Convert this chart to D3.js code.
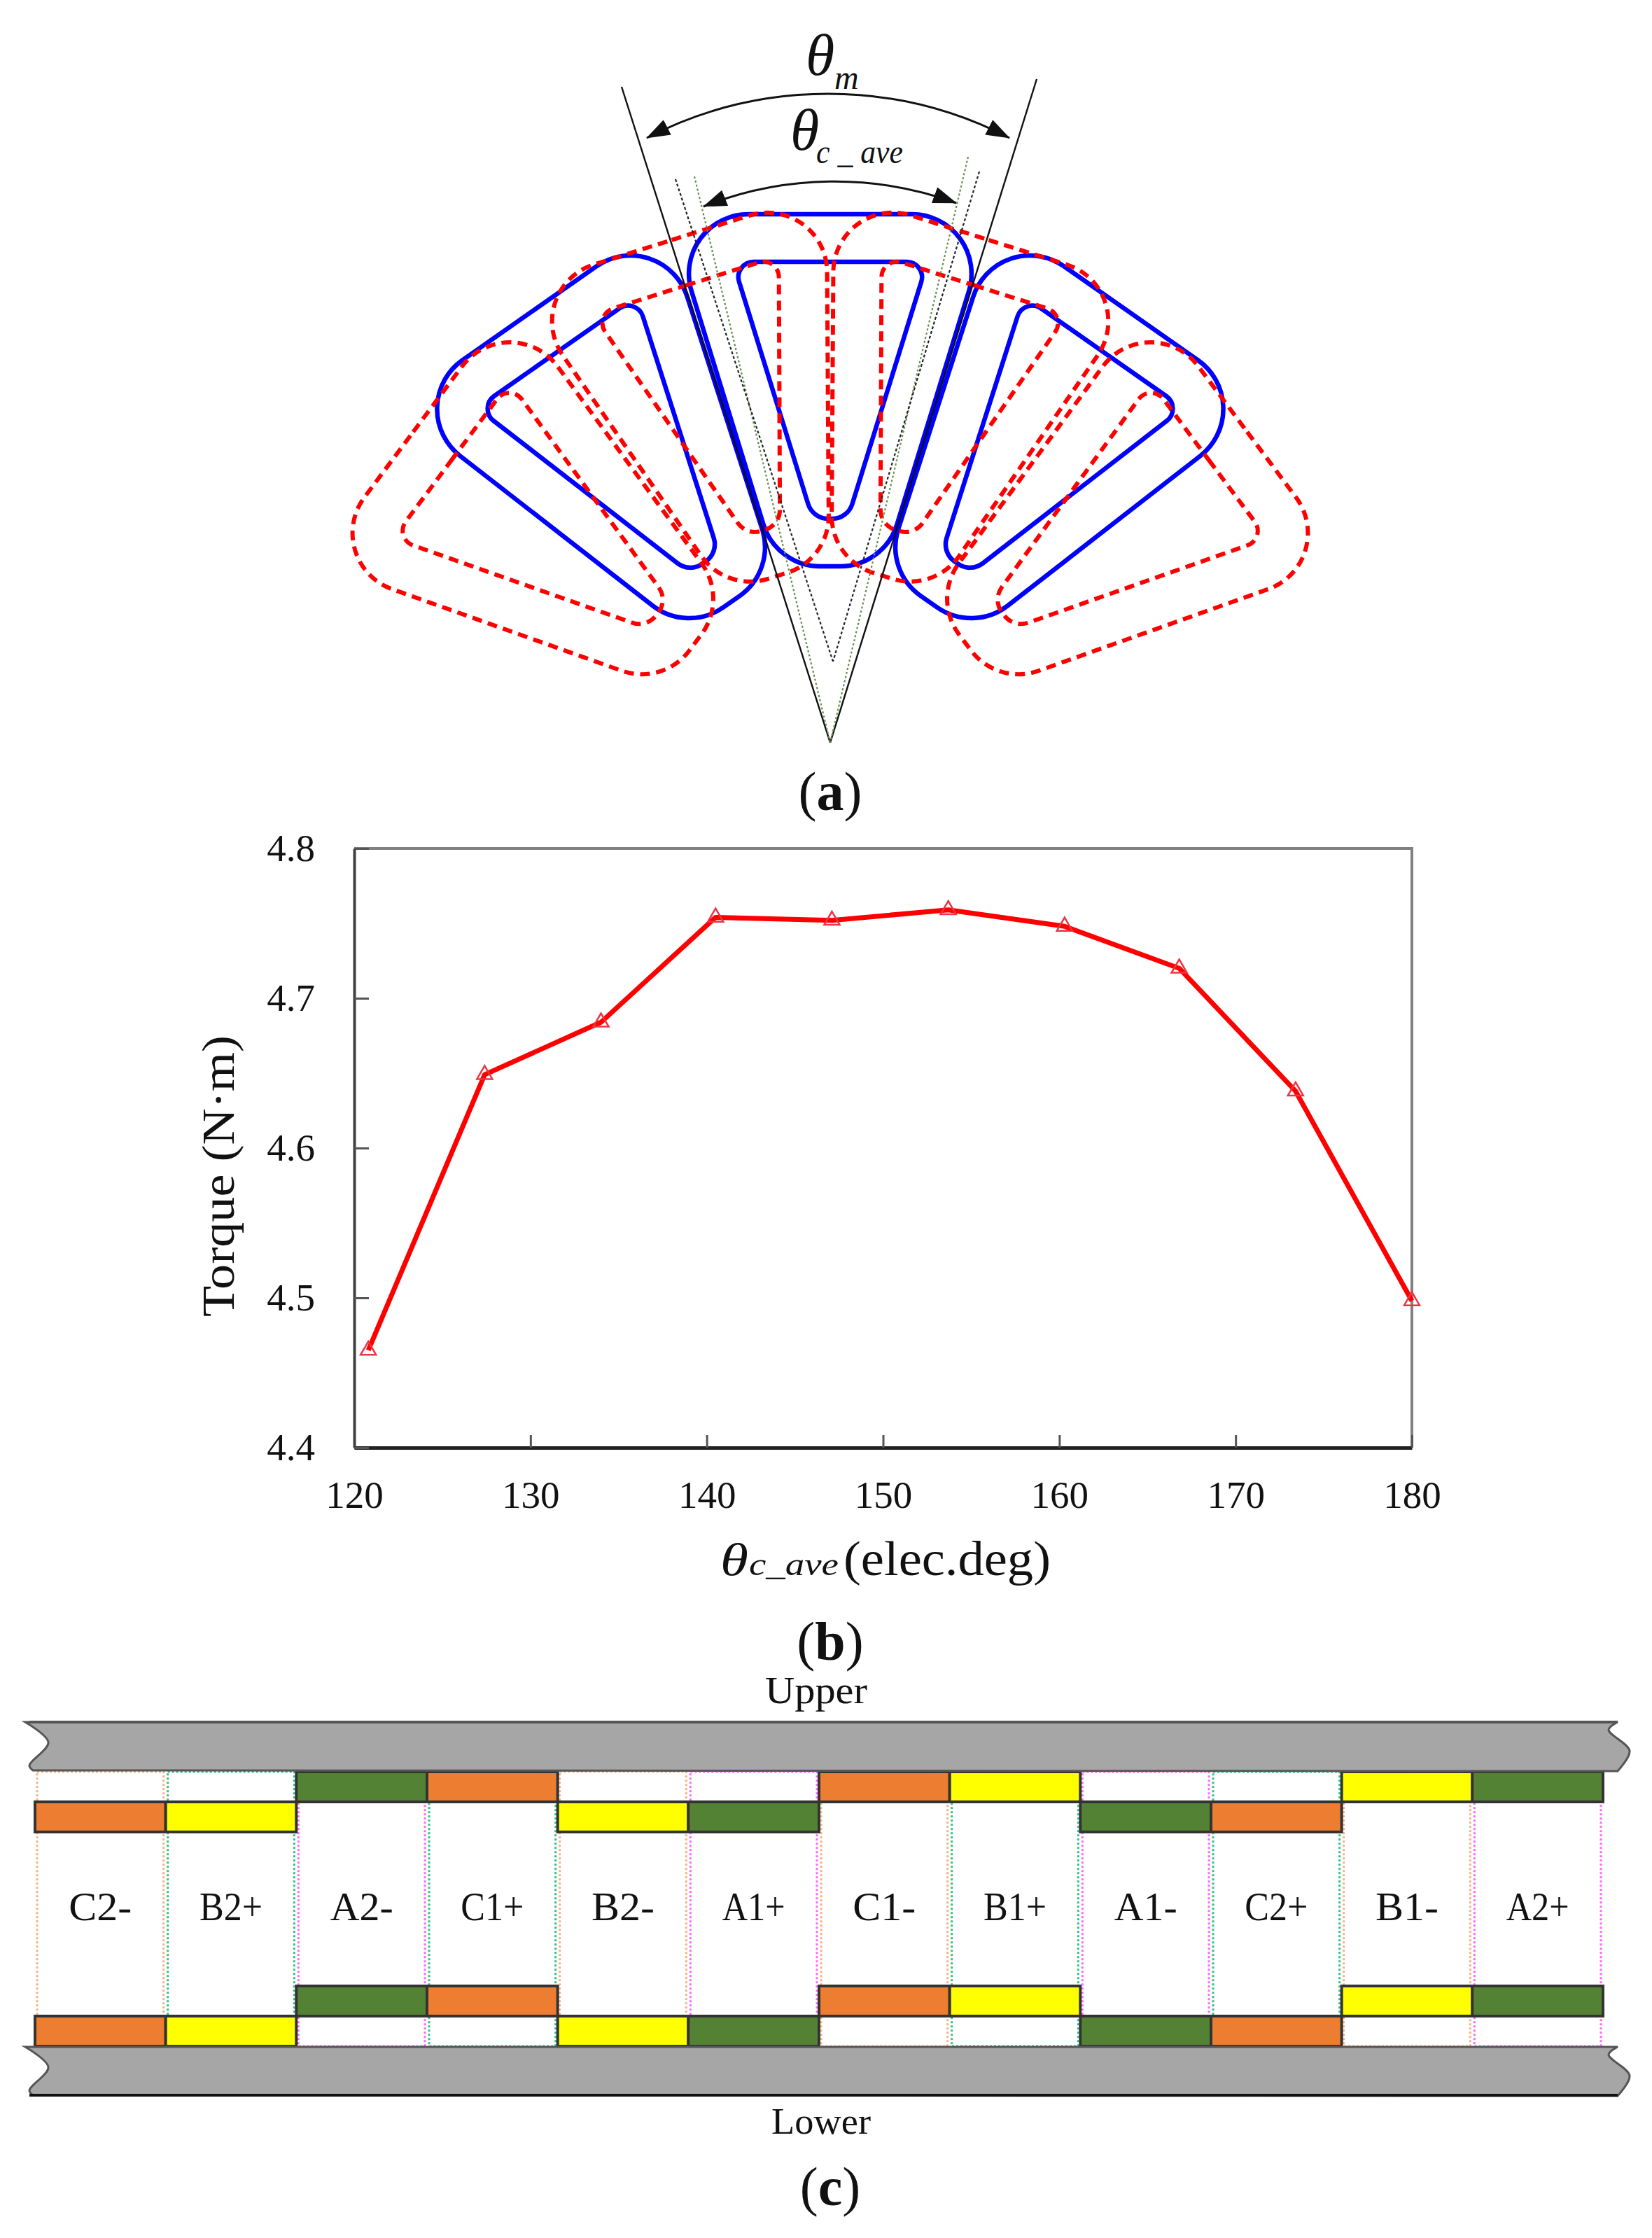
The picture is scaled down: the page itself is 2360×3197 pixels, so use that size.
<!DOCTYPE html>
<html>
<head>
<meta charset="utf-8">
<title>Coil pitch and torque</title>
<script src="https://cdn.jsdelivr.net/npm/d3@7.9.0/dist/d3.min.js"></script>
<style>
  html, body { margin: 0; padding: 0; background: #fff; }
  svg { display: block; }
  text { font-family: "Liberation Serif", serif; fill: #111; }
</style>
</head>
<body>
<svg id="fig" width="2360" height="3197" viewBox="0 0 2360 3197"></svg>
<script>
// (b) torque curve
const coilPitch = [120.8, 127.4, 134, 140.5, 147.1, 153.7, 160.3, 166.8, 173.4, 180];
const torque = [4.465, 4.649, 4.684, 4.754, 4.752, 4.759, 4.748, 4.72, 4.638, 4.498];
const xTicks = [120, 130, 140, 150, 160, 170, 180];
const yTicks = [4.4, 4.5, 4.6, 4.7, 4.8];

// (a) coil rotations about the apex, degrees, and how far each sits in from its nominal radius
const blueCoilAngles = [-35, 0, 35];
const blueCoilInset = [6, 0, 6];
const redCoilAngles = [-53.3, -17.5, 17.5, 53.3];
const redCoilInset = [12, 2, 2, 12];

// (c) winding layout
const slotLabels = ["C2-", "B2+", "A2-", "C1+", "B2-", "A1+", "C1-", "B1+", "A1-", "C2+", "B1-", "A2+"];
const slotRows = [1, 1, 0, 0, 1, 1, 0, 0, 1, 1, 0, 0];
const slotLines = ["C", "B", "A", "B", "C", "A", "C", "B", "A", "B", "C", "A"];

const svg = d3.select("#fig");

// --- Panel a ---
const apex = [1186, 1061];
const outerCoil = { top: -755, bottom: -252, topHalf: 232, bottomHalf: 77, rTop: 85, rBottom: 85 };
const innerCoil = { top: -687, bottom: -320, topHalf: 139, bottomHalf: 25, rTop: 22, rBottom: 30 };

function coilPath(c) {
  const p = d3.path();
  p.moveTo(0, c.top);
  p.arcTo(c.topHalf, c.top, c.bottomHalf, c.bottom, c.rTop);
  p.arcTo(c.bottomHalf, c.bottom, -c.bottomHalf, c.bottom, c.rBottom);
  p.arcTo(-c.bottomHalf, c.bottom, -c.topHalf, c.top, c.rBottom);
  p.arcTo(-c.topHalf, c.top, 0, c.top, c.rTop);
  p.closePath();
  return p.toString();
}

const coils = svg.append("g").attr("fill", "none");

function drawCoils(angles, inset, color, width, dash) {
  const g = coils.selectAll(null)
    .data(angles)
    .join("g")
    .attr("transform", (d, i) => `translate(${apex[0]},${apex[1]}) rotate(${d}) translate(0,${inset[i]})`);
  g.selectAll("path")
    .data([outerCoil, innerCoil])
    .join("path")
    .attr("d", coilPath)
    .attr("stroke", color)
    .attr("stroke-width", width)
    .attr("stroke-dasharray", dash);
}
drawCoils(blueCoilAngles, blueCoilInset, "#0000ff", 6.5, null);
drawCoils(redCoilAngles, redCoilInset, "#ff0000", 6, "14 9");

// guide lines
const guides = [
  { from: [888, 124], to: apex, color: "#111", width: 2.4, dash: null },
  { from: [1481, 113], to: apex, color: "#111", width: 2.4, dash: null },
  { from: [992, 252], to: apex, color: "#6b8e4e", width: 2.2, dash: "3 3" },
  { from: [1383, 224], to: apex, color: "#6b8e4e", width: 2.2, dash: "3 3" },
  { from: [965, 256], to: [1190, 945], color: "#222", width: 2.2, dash: "4 3" },
  { from: [1399, 245], to: [1190, 945], color: "#222", width: 2.2, dash: "4 3" },
];
svg.append("g").selectAll("line")
  .data(guides)
  .join("line")
  .attr("x1", (d) => d.from[0]).attr("y1", (d) => d.from[1])
  .attr("x2", (d) => d.to[0]).attr("y2", (d) => d.to[1])
  .attr("stroke", (d) => d.color)
  .attr("stroke-width", (d) => d.width)
  .attr("stroke-dasharray", (d) => d.dash);

// arrow arcs
const defs = svg.append("defs");
defs.append("marker")
  .attr("id", "head")
  .attr("markerUnits", "userSpaceOnUse")
  .attr("markerWidth", 36).attr("markerHeight", 24)
  .attr("refX", 33).attr("refY", 12)
  .attr("orient", "auto-start-reverse")
  .append("path")
  .attr("d", "M0,0L34,12L0,24Z")
  .attr("fill", "#111");

const arcs = [
  { a: [924, 197], b: [1442, 197], r: 564 },
  { a: [1005, 295], b: [1366, 290], r: 507 },
];
svg.append("g").selectAll("path")
  .data(arcs)
  .join("path")
  .attr("d", (d) => `M${d.a}A${d.r},${d.r} 0 0 1 ${d.b}`)
  .attr("fill", "none")
  .attr("stroke", "#111")
  .attr("stroke-width", 3)
  .attr("marker-start", "url(#head)")
  .attr("marker-end", "url(#head)");

function label(x, y, str, size, opts = {}) {
  const t = svg.append("text")
    .attr("x", x).attr("y", y)
    .attr("font-size", size)
    .attr("text-anchor", opts.anchor || "start")
    .attr("font-style", opts.italic ? "italic" : null)
    .text(str);
  if (opts.length) t.attr("textLength", opts.length).attr("lengthAdjust", "spacingAndGlyphs");
  return t;
}

label(1151, 107, "θ", 84, { italic: true });
label(1192, 127, "m", 48, { italic: true });
label(1129, 214, "θ", 84, { italic: true });
label(1166, 233, "c _ ave", 48, { italic: true, length: 124 });

function panelTag(y, letter) {
  const t = svg.append("text")
    .attr("x", 1186).attr("y", y)
    .attr("font-size", 78)
    .attr("text-anchor", "middle");
  t.append("tspan").text("(");
  t.append("tspan").attr("font-weight", "bold").text(letter);
  t.append("tspan").text(")");
}
panelTag(1157, "a");
panelTag(2371, "b");
panelTag(3150, "c");

// --- Panel b ---
const x = d3.scaleLinear().domain([120, 180]).range([506, 2017]);
const y = d3.scaleLinear().domain([4.4, 4.8]).range([2068, 1212]);

const plot = svg.append("g");

plot.append("path")
  .attr("d", `M${x(120)},${y(4.8)}H${x(180)}V${y(4.4)}`)
  .attr("fill", "none")
  .attr("stroke", "#808080")
  .attr("stroke-width", 4);

const axisX = plot.append("g")
  .attr("transform", `translate(0,${y(4.4)})`)
  .call(d3.axisBottom(x).tickValues(xTicks).tickFormat(d3.format("d")).tickSizeInner(-18).tickSizeOuter(0).tickPadding(47));
const axisY = plot.append("g")
  .attr("transform", `translate(${x(120)},0)`)
  .call(d3.axisLeft(y).tickValues(yTicks).tickFormat(d3.format(".1f")).tickSizeInner(-21).tickSizeOuter(0).tickPadding(56));

[axisX, axisY].forEach((a) => {
  a.selectAll("text").attr("font-family", "Liberation Serif").attr("font-size", 55).attr("fill", "#111");
  a.selectAll("line").attr("stroke", "#555").attr("stroke-width", 3);
});
axisX.select(".domain").attr("stroke", "#222").attr("stroke-width", 5);
axisY.select(".domain").attr("stroke", "#404040").attr("stroke-width", 4);

const points = coilPitch.map((d, i) => [d, torque[i]]);
const lineGen = d3.line().x((d) => x(d[0])).y((d) => y(d[1]));

plot.append("path")
  .attr("d", lineGen(points))
  .attr("fill", "none")
  .attr("stroke", "#ff0000")
  .attr("stroke-width", 7)
  .attr("stroke-linejoin", "round");

plot.append("g").selectAll("path")
  .data(points)
  .join("path")
  .attr("d", d3.symbol(d3.symbolTriangle, 210))
  .attr("transform", (d) => `translate(${x(d[0])},${y(d[1])})`)
  .attr("fill", "none")
  .attr("stroke", "#ee3344")
  .attr("stroke-width", 2.5);

const yTitleX = 334;
const yTitleY = 1680;
svg.append("text")
  .attr("transform", `translate(${yTitleX},${yTitleY}) rotate(-90)`)
  .attr("text-anchor", "middle")
  .attr("font-size", 66)
  .attr("textLength", 402)
  .attr("lengthAdjust", "spacingAndGlyphs")
  .text("Torque (N·m)");

label(1029, 2250, "θ", 66, { italic: true, length: 40 });
label(1070, 2250, "c_ave", 46, { italic: true, length: 128 });
label(1205, 2250, "(elec.deg)", 70, { length: 296 });

// --- Panel c ---
const slotX = d3.scaleLinear().domain([0, 12]).range([50, 2290]);
const upperRowY = d3.scaleLinear().domain([0, 2]).range([2531, 2617]);
const lowerRowY = d3.scaleLinear().domain([0, 2]).range([2837, 2923]);
const phaseFill = { A: "#548235", B: "#ffff00", C: "#ed7d31" };
const lineColor = { A: "#ff66ff", B: "#2fc08a", C: "#f4b183" };

const slots = slotLabels.map((d, i) => ({ i, label: d, row: slotRows[i], phase: d[0], line: slotLines[i] }));
const slotW = slotX(1) - slotX(0);

const slotG = svg.append("g");

// dotted slot boundaries, top and bottom of each slot
slotG.selectAll("path.bound")
  .data(slots)
  .join("path")
  .attr("class", "bound")
  .attr("d", (d) => `M${slotX(d.i) + 3},${upperRowY(0)}H${slotX(d.i + 1) - 3}V${lowerRowY(2)}H${slotX(d.i) + 3}Z`)
  .attr("fill", "none")
  .attr("stroke", (d) => lineColor[d.line])
  .attr("stroke-width", 3)
  .attr("stroke-dasharray", "3 3");

function drawCells(rowY) {
  slotG.selectAll(null)
    .data(slots)
    .join("rect")
    .attr("x", (d) => slotX(d.i))
    .attr("y", (d) => rowY(d.row))
    .attr("width", slotW)
    .attr("height", rowY(1) - rowY(0))
    .attr("fill", (d) => phaseFill[d.phase])
    .attr("stroke", "#333")
    .attr("stroke-width", 4);
}
drawCells(upperRowY);
drawCells(lowerRowY);

slotG.selectAll("text")
  .data(slots)
  .join("text")
  .attr("x", (d) => slotX(d.i + 0.5))
  .attr("y", 2743)
  .attr("text-anchor", "middle")
  .attr("font-size", 56)
  .attr("textLength", 90)
  .attr("lengthAdjust", "spacingAndGlyphs")
  .text((d) => d.label);

// yoke bands with broken ends
const waveLeft = [[0, 0], [33, 29], [6, 62], [11, 69]];
const waveRight = [[0, 0], [-13, 11], [17, 41], [0, 70]];
const waveLine = d3.line().curve(d3.curveCatmullRom);

function band(top, edge) {
  const left = waveLeft.map((d) => [36 + d[0], top + d[1]]);
  const right = waveRight.map((d) => [2311 + d[0], top + d[1]]).reverse();
  svg.append("path")
    .attr("d", waveLine(left) + "L" + waveLine(right).slice(1) + "Z")
    .attr("fill", "#a6a6a6")
    .attr("stroke", "#555")
    .attr("stroke-width", 3);
  svg.append("line")
    .attr("x1", 42).attr("x2", 2311)
    .attr("y1", top + edge).attr("y2", top + edge)
    .attr("stroke", edge ? "#111" : "#555")
    .attr("stroke-width", 4);
}
band(2460, 0);
band(2924, 69);

label(1166, 2433, "Upper", 54, { anchor: "middle", length: 146 });
label(1173, 3048, "Lower", 52, { anchor: "middle", length: 142 });
</script>
</body>
</html>
